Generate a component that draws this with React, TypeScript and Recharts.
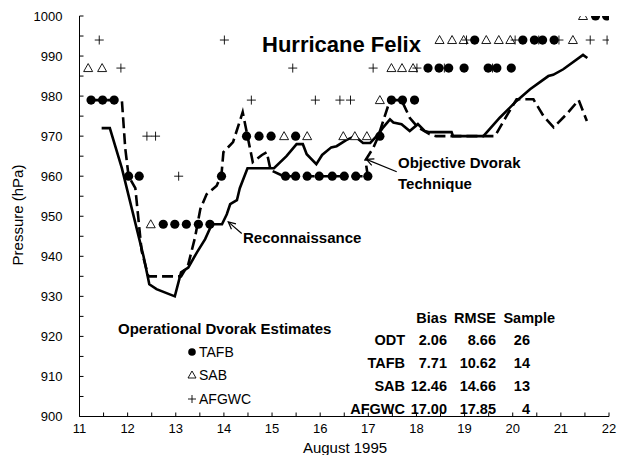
import React from "react";
import { ComposedChart, Line, Scatter, XAxis, YAxis, ReferenceLine } from "recharts";

// reconnaissance (solid line)
const reconDays = [11.46, 11.63, 11.88, 12.33, 12.45, 12.6, 12.98, 13.11, 13.26, 13.44, 13.61, 13.75, 13.96, 14.06, 14.13, 14.27, 14.33, 14.49, 14.75, 15.04, 15.3, 15.51, 15.64, 15.72, 15.92, 16.04, 16.23, 16.34, 16.54, 16.72, 16.89, 17.04, 17.21, 17.31, 17.45, 17.52, 17.69, 17.86, 18.03, 18.17, 18.27, 18.73, 18.76, 19.39, 19.73, 20.08, 20.36, 20.74, 20.84, 21.05, 21.46, 21.55];
const reconHpa = [972, 972, 962, 940, 933, 931.8, 930, 936, 937.2, 941, 944.3, 948, 948, 950.5, 953, 954, 957, 962, 962, 962, 965, 968, 968, 965.5, 963, 965.3, 967.2, 967.5, 969, 970, 968.3, 968.3, 970.5, 972.2, 974.2, 973.4, 973, 971.3, 973, 971.3, 971, 971, 970, 970, 974.6, 978.8, 981.7, 985, 985.3, 986.7, 990.3, 989.5];

// objective dvorak technique (dashed line)
const odtDays = [11.24, 11.88, 11.95, 12.02, 12.16, 12.29, 12.43, 13.11, 13.26, 13.4, 13.51, 13.64, 13.85, 13.95, 13.99, 14.19, 14.39, 14.6, 14.79, 14.89, 14.97, 15.24, 16.99, 16.94, 17.1, 17.2, 17.31, 17.45, 17.69, 17.86, 18.03, 18.27, 18.41, 19.63, 19.87, 20.08, 20.43, 20.64, 20.85, 21.12, 21.37, 21.54];
const odtHpa = [979, 979, 967, 960, 957, 941.4, 935, 935, 938, 944.7, 951.8, 955.5, 957.6, 960.5, 966, 968.5, 976, 963.5, 965.3, 966, 961.5, 960, 960, 964, 967, 969.7, 973.8, 979, 979, 974.6, 972.2, 970.5, 970, 970, 975, 979.2, 979.2, 975, 972.2, 975.5, 979, 973.8];

// operational dvorak estimates
const tafbDays = [11.24, 11.48, 11.72, 12.02, 12.24, 12.74, 12.98, 13.22, 13.47, 13.71, 13.95, 14.47, 14.73, 14.98, 15.49, 15.28, 15.49, 15.73, 15.98, 16.25, 16.5, 16.74, 16.99, 17.24, 17.48, 17.71, 17.96, 18.24, 18.47, 18.67, 18.99, 19.49, 19.67, 19.97, 19.21, 20.21, 20.45, 20.62, 20.86, 21.72, 21.95];
const tafbHpa = [979, 979, 979, 960, 960, 948, 948, 948, 948, 948, 960, 970, 970, 970, 970, 960, 960, 960, 960, 960, 960, 960, 960, 970, 979, 979, 979, 987, 987, 987, 987, 987, 987, 987, 994, 994, 994, 994, 994, 1000, 1000];

const sabDays = [11.18, 11.47, 12.48, 15.25, 15.73, 16.48, 16.72, 16.97, 17.24, 17.48, 17.7, 17.93, 18.48, 18.74, 18.98, 19.45, 19.71, 19.95, 21.25, 21.46];
const sabHpa = [987, 987, 948, 970, 970, 970, 970, 970, 979, 987, 987, 987, 994, 994, 994, 994, 994, 994, 994, 1000];

const afgwcDays = [11.41, 14.01, 19.04, 20.05, 20.54, 20.96, 21.61, 21.96, 11.86, 15.43, 17.1, 18.01, 18.58, 19.58, 14.57, 15.9, 16.41, 16.63, 12.4, 12.58, 13.06];
const afgwcHpa = [994, 994, 994, 994, 994, 994, 994, 994, 987, 987, 987, 987, 987, 987, 979, 979, 979, 979, 970, 970, 960];

const xTicks = [11, 12, 13, 14, 15, 16, 17, 18, 19, 20, 21, 22];
const xMinorTicks = [11, 11.5, 12, 12.5, 13, 13.5, 14, 14.5, 15, 15.5, 16, 16.5, 17, 17.5, 18, 18.5, 19, 19.5, 20, 20.5, 21, 21.5, 22];
const yTicks = [900, 905, 910, 915, 920, 925, 930, 935, 940, 945, 950, 955, 960, 965, 970, 975, 980, 985, 990, 995, 1000];
const yMajorTicks = [900, 910, 920, 930, 940, 950, 960, 970, 980, 990, 1000];

const statRows = ["ODT", "TAFB", "SAB", "AFGWC"];
const statBias = ["2.06", "7.71", "12.46", "17.00"];
const statRmse = ["8.66", "10.62", "14.66", "17.85"];
const statSample = ["26", "14", "13", "4"];

const FONT = "'Liberation Sans', Arial, Helvetica, sans-serif";

const zip = (xs: number[], ys: number[]) => xs.map((x, i) => ({ x, y: ys[i] }));

const Dot = (p: any) => <circle cx={p.cx} cy={p.cy} r={4.6} fill="#000" />;
const Tri = (p: any) => (
  <polygon
    points={`${p.cx},${p.cy - 4.5} ${p.cx - 4.5},${p.cy + 3.5} ${p.cx + 4.5},${p.cy + 3.5}`}
    fill="#fff"
    stroke="#000"
    strokeWidth={0.9}
  />
);
const Plus = (p: any) => (
  <path d={`M${p.cx - 4.5},${p.cy}H${p.cx + 4.5}M${p.cx},${p.cy - 4.5}V${p.cy + 4.5}`} stroke="#000" strokeWidth={0.9} />
);

const Arrow = (p: any) => {
  const { x1, y1, x2, y2 } = p;
  const a = Math.atan2(y2 - y1, x2 - x1);
  const L = 8;
  const w = 0.45;
  const h1 = [x2 - L * Math.cos(a - w), y2 - L * Math.sin(a - w)];
  const h2 = [x2 - L * Math.cos(a + w), y2 - L * Math.sin(a + w)];
  return (
    <g>
      <line x1={x1} y1={y1} x2={x2} y2={y2} stroke="#000" strokeWidth={1.2} />
      <polyline points={`${h1[0]},${h1[1]} ${x2},${y2} ${h2[0]},${h2[1]}`} fill="none" stroke="#000" strokeWidth={1.2} />
    </g>
  );
};

function T({ x, y, children, size = 15, bold = false, anchor = "start" }: any) {
  const tx = anchor === "end" ? "-100%" : anchor === "middle" ? "-50%" : "0";
  return (
    <div
      style={{
        position: "absolute",
        left: x,
        top: y,
        transform: `translate(${tx}, -50%)`,
        fontFamily: FONT,
        fontSize: size,
        fontWeight: bold ? 700 : 400,
        lineHeight: 1,
        whiteSpace: "nowrap",
        color: "#000",
      }}
    >
      {children}
    </div>
  );
}

export default function App() {
  const tick = { fontSize: 13, fill: "#000", fontFamily: FONT };
  const rowY = [340, 363, 386, 409];
  return (
    <div style={{ position: "absolute", left: 0, top: 0, width: 621, height: 455, background: "#fff" }}>
      <ComposedChart width={621} height={455} margin={{ top: 16, right: 12, bottom: 0, left: 0 }}>
        <XAxis
          dataKey="x"
          type="number"
          domain={[11, 22]}
          ticks={xMinorTicks}
          interval={0}
          tickFormatter={(v: number) => (xTicks.includes(v) ? String(v) : "")}
          tick={tick}
          tickSize={-4}
          tickMargin={11}
          height={38.5}
          stroke="#000"
          allowDataOverflow
        />
        <XAxis xAxisId="top" orientation="top" type="number" domain={[11, 22]} ticks={xTicks} interval={0} tickFormatter={() => ""} mirror tickSize={4} height={0} stroke="#000" />
        <YAxis
          dataKey="y"
          type="number"
          domain={[900, 1000]}
          ticks={yTicks}
          interval={0}
          tickFormatter={(v: number) => (yMajorTicks.includes(v) ? String(v) : "")}
          tick={tick}
          tickSize={-4}
          tickMargin={21}
          width={79.5}
          stroke="#000"
          allowDataOverflow
        />
        <YAxis yAxisId="right" orientation="right" type="number" domain={[900, 1000]} ticks={yMajorTicks} interval={0} tickFormatter={() => ""} mirror tickSize={4} width={0} stroke="#000" />
        <Line data={zip(reconDays, reconHpa)} dataKey="y" type="linear" stroke="#000" strokeWidth={2.6} dot={false} isAnimationActive={false} />
        <Line data={zip(odtDays, odtHpa)} dataKey="y" type="linear" stroke="#000" strokeWidth={2.6} strokeDasharray="11 5" dot={false} isAnimationActive={false} />
        <Scatter data={zip(tafbDays, tafbHpa)} shape={Dot} isAnimationActive={false} />
        <Scatter data={zip(sabDays, sabHpa)} shape={Tri} isAnimationActive={false} />
        <Scatter data={zip(afgwcDays, afgwcHpa)} shape={Plus} isAnimationActive={false} />
        <ReferenceLine segment={[{ x: 14.37, y: 945.7 }, { x: 14.09, y: 948.6 }]} shape={Arrow} />
        <ReferenceLine segment={[{ x: 17.59, y: 961.1 }, { x: 16.96, y: 964.2 }]} shape={Arrow} />
      </ComposedChart>

      <T x={17} y={215} anchor="middle">
        <div style={{ transform: "rotate(-90deg)" }}>Pressure (hPa)</div>
      </T>
      <T x={345} y={447} anchor="middle">August 1995</T>

      <T x={262} y={45} size={22} bold>Hurricane Felix</T>
      <T x={398} y={162} bold>Objective Dvorak</T>
      <T x={398} y={183} bold>Technique</T>
      <T x={243} y={237} bold>Reconnaissance</T>

      <T x={118} y={328} bold>Operational Dvorak Estimates</T>
      <svg style={{ position: "absolute", left: 0, top: 0 }} width={621} height={455}>
        <circle cx={192} cy={352} r={3.8} fill="#000" />
        <polygon points="192,371 188,378 196,378" fill="#fff" stroke="#000" strokeWidth={0.9} />
        <path d="M188,399H196M192,395V403" stroke="#000" strokeWidth={0.9} />
      </svg>
      <T x={199} y={352} size={14}>TAFB</T>
      <T x={199} y={375} size={14}>SAB</T>
      <T x={199} y={399} size={14}>AFGWC</T>

      <T x={447} y={318} size={14.5} bold anchor="end">Bias</T>
      <T x={496} y={318} size={14.5} bold anchor="end">RMSE</T>
      <T x={555} y={318} size={14.5} bold anchor="end">Sample</T>
      {statRows.map((r, i) => (
        <React.Fragment key={r}>
          <T x={405} y={rowY[i]} size={14.5} bold anchor="end">{r}</T>
          <T x={447} y={rowY[i]} size={14.5} bold anchor="end">{statBias[i]}</T>
          <T x={496} y={rowY[i]} size={14.5} bold anchor="end">{statRmse[i]}</T>
          <T x={530} y={rowY[i]} size={14.5} bold anchor="end">{statSample[i]}</T>
        </React.Fragment>
      ))}
    </div>
  );
}
